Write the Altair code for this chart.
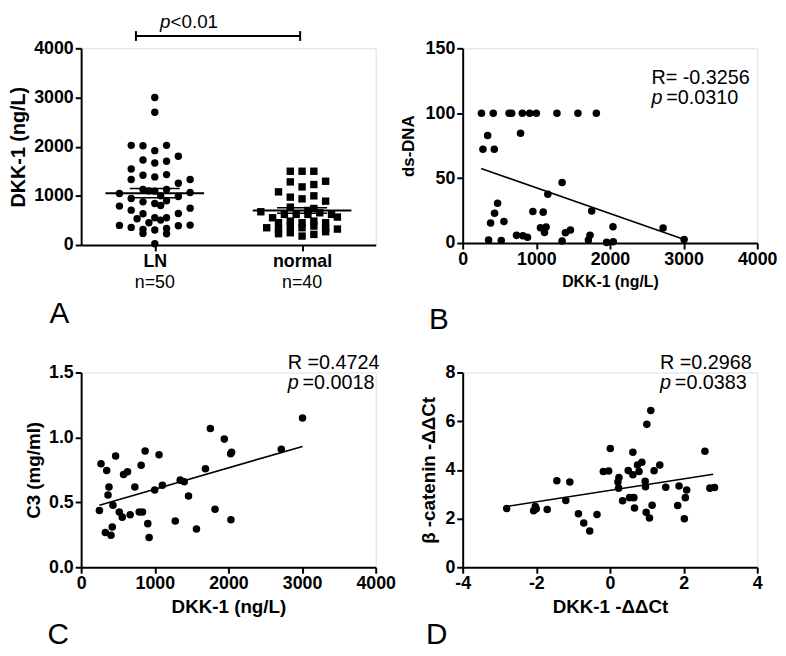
import altair as alt
import pandas as pd

FONT = "Liberation Sans"

# ---------------- Panel A: DKK-1 by group ----------------
ln_values = [3000, 2700, 2027, 2020, 2027, 1919, 1804, 1730, 1669, 1703, 1547, 1331, 1419, 1385,
             1432, 1257, 1331, 1128, 1095, 1128, 1047, 1068, 946, 878, 845, 899, 986, 791, 804,
             750, 709, 635, 642, 534, 554, 554, 507, 453, 399, 358, 318, 304, 338, 392, 405,
             236, 230, 27, 1100, 1000]
ln_slots = [0, 0, -2, -1, 1, 0, 2, -1, 0, 1, -2, -2, -1, 0,
            1, 2, 3, -1, 0, 1, -3, 3, -2, -1, 0, 1, 2, -3, 0.5,
            3, -2, -1, 2, -1.5, 0, 1, 0.5, -0.5, -3, -2, -1, 0, 1, 2, 3,
            -1, 1, 0, -0.5, 0.5]
normal_values = [1500, 1500, 1500, 1284, 1182, 1230, 1297, 1081, 973, 939, 1000, 892, 770, 743,
                 676, 703, 554, 622, 622, 622, 655, 622, 568, 453, 486, 453, 486, 453,
                 351, 318, 385, 351, 385, 338, 324, 250, 216, 270, 182, 230]
normal_slots = [-1, 0, 1, -1, 0, 1, 2, -2, -1, 0, 1, 2, -1, 1,
                -3.5, 0.5, -2.5, -1.5, -0.5, 0.5, 1.5, 2.5, 3, -2, -1, 0, 1, 2,
                -3, -2, -1, 0, 1, 2, 3, -1, 1, 2, 0, -2]
groups = ["LN", "normal"]
group_pos = [1, 2]
group_n = ["n=50", "n=40"]
group_mean = [1054, 703]
group_sem = [95, 55]
bracket_x = [0.872, 1.987]
bracket_y = 4250
p_text_pos = [1.107, 4420]

# ---------------- Panel B: ds-DNA vs DKK-1 ----------------
b_x = [255, 415, 630, 665, 810, 910, 1000, 1280, 1565, 1815,
       339, 275, 429, 786, 1350, 1156, 1752, 474, 433, 379, 560, 953, 1093, 1056, 1133,
       1111, 1395, 1463, 2041, 2722, 3007, 352, 524, 731, 817, 880, 1350, 1707, 1729,
       1955, 2045]
b_y = [100, 100, 100, 100, 100, 100, 100, 100, 100, 100,
       82.9, 72.2, 72.2, 84.5, 46.6, 37.6, 24.6, 30.7, 23.0, 15.4, 16.6, 24.3, 23.8, 11.8, 12.3,
       8.2, 7.9, 10.0, 12.5, 11.5, 2.8, 2.3, 2.0, 5.9, 5.6, 4.4, 1.5, 2.3, 5.9,
       0.5, 1.0]
b_fit_x = [250, 3000]
b_fit_y = [57.4, 3.0]

# ---------------- Panel C: C3 vs DKK-1 ----------------
c_x = [3006, 1755, 1944, 2043, 2030, 2718, 869, 1058, 468, 270, 347, 815, 576, 630, 1688,
       378, 729, 365, 999, 1103, 1346, 1400, 1458, 432, 248, 518, 558, 666, 788, 833, 1818,
       905, 1278, 2034, 1566, 423, 329, 405, 923]
c_y = [1.149, 1.068, 0.987, 0.885, 0.875, 0.908, 0.895, 0.867, 0.857, 0.798, 0.745, 0.786,
       0.714, 0.735, 0.758, 0.618, 0.618, 0.557, 0.595, 0.631, 0.671, 0.659, 0.549, 0.478,
       0.437, 0.425, 0.386, 0.404, 0.425, 0.425, 0.447, 0.336, 0.356, 0.366, 0.295, 0.310,
       0.267, 0.247, 0.229]
c_fit_x = [248, 3006]
c_fit_y = [0.478, 0.931]

# ---------------- Panel D: beta-catenin vs DKK-1 (ddCt) ----------------
d_x = [1.109, 1.001, 0.009, 2.579, 0.622, 0.866, 0.748, 1.353, -0.180, -0.036, 0.496, 1.199,
       0.790, 0.622, 0.243, 0.216, -1.443, -1.091, 0.956, 0.965, 0.234, 1.515, 1.876, 2.714,
       2.840, 2.083, 2.047, -1.199, 0.343, 0.532, 0.649, 1.145, 1.840, -2.804, -2.029, -2.002,
       -2.074, -1.704, 0.667, -0.857, -0.352, 0.983, 1.073, 2.020, -0.712, -0.550]
d_y = [6.44, 5.87, 4.88, 4.77, 4.72, 4.31, 4.20, 4.20, 3.93, 3.95, 3.97, 3.96,
       3.93, 3.80, 3.69, 3.50, 3.55, 3.50, 3.53, 3.31, 3.25, 3.29, 3.34, 3.25,
       3.28, 3.17, 2.86, 2.74, 2.73, 2.86, 2.86, 2.55, 2.54, 2.41, 2.49, 2.40,
       2.32, 2.37, 2.43, 2.20, 2.17, 2.26, 2.02, 1.99, 1.82, 1.49]
d_fit_x = [-2.867, 2.804]
d_fit_y = [2.48, 3.82]

# annotation texts: [R text, p value text, x, y_R, y_p]
b_note = ["R= -0.3256", "=0.0310", 2564, 122.8, 107.4]
c_note = ["R =0.4724", "=0.0018", 2805, 1.530, 1.370]
d_note = ["R =0.2968", "=0.0383", 1.36, 8.16, 7.31]

W = 298


def axis(title, values, title_size, title_pad, label_expr=None, fmt=None):
    kw = dict(
        title=title, values=values, grid=False,
        domainColor="black", domainWidth=2, tickColor="black", tickWidth=2, tickSize=6,
        labelColor="black", titleColor="black", labelFont=FONT, titleFont=FONT,
        labelFontWeight="bold", titleFontWeight="bold", labelFontSize=18,
        titleFontSize=title_size, titlePadding=title_pad, labelPadding=2,
        labelOverlap=False, labelFlush=False,
    )
    if label_expr is not None:
        kw["labelExpr"] = label_expr
    if fmt is not None:
        kw["format"] = fmt
    return alt.Axis(**kw)


def letter(ch, x, y):
    return alt.Chart(pd.DataFrame({"t": [ch]})).mark_text(
        font=FONT, fontSize=30, align="left", baseline="alphabetic", color="black"
    ).encode(x=alt.value(x), y=alt.value(y), text="t:N")


# ---- Panel A ----
a_df = pd.DataFrame({
    "group": ["LN"] * len(ln_values) + ["normal"] * len(normal_values),
    "value": ln_values + normal_values,
    "slot": ln_slots + normal_slots,
    "pos": [1] * len(ln_values) + [2] * len(normal_values),
})
a_xscale = alt.Scale(domain=[0.5, 2.5], nice=False, zero=False)
a_yscale = alt.Scale(domain=[0, 4000], nice=False)
a_xaxis = axis(None, group_pos, 18, 4, label_expr="datum.value == 1 ? 'LN' : 'normal'")
a_yaxis = axis("DKK-1 (ng/L)", [0, 1000, 2000, 3000, 4000], 20, 5, fmt="d")


def ax(field):
    return alt.X(field, type="quantitative", scale=a_xscale, axis=a_xaxis)


def ay(field):
    return alt.Y(field, type="quantitative", scale=a_yscale, axis=a_yaxis)


a_points = alt.Chart(a_df).transform_calculate(
    xj="datum.pos + datum.slot * 0.08"
).mark_point(filled=True, size=56, opacity=1, color="black").encode(
    x=ax("xj"), y=ay("value"),
    shape=alt.Shape("group:N", scale=alt.Scale(domain=groups, range=["circle", "square"]), legend=None),
)

sum_df = pd.DataFrame({"pos": group_pos, "mean": group_mean, "sem": group_sem, "n": group_n})
a_mean = alt.Chart(sum_df).transform_calculate(
    x1="datum.pos - 0.335", x2="datum.pos + 0.335"
).mark_rule(color="black", strokeWidth=2).encode(x=ax("x1"), x2="x2:Q", y=ay("mean"))
a_sem = alt.Chart(sum_df).transform_calculate(
    x1="datum.pos - 0.17", x2="datum.pos + 0.17"
).transform_fold(["up", "lo"], as_=["k", "v"]).transform_calculate(
    yy="datum.k == 'up' ? datum.mean + datum.sem : datum.mean - datum.sem"
).mark_rule(color="black", strokeWidth=1.5).encode(x=ax("x1"), x2="x2:Q", y=ay("yy"))

br_df = pd.DataFrame({"x1": [bracket_x[0]], "x2": [bracket_x[1]], "y": [bracket_y]})
a_br_h = alt.Chart(br_df).mark_rule(color="black", strokeWidth=2).encode(
    x=ax("x1"), x2="x2:Q", y=ay("y"))
brv_df = pd.DataFrame({"x": bracket_x, "y1": [bracket_y - 100] * 2, "y2": [bracket_y + 100] * 2})
a_br_v = alt.Chart(brv_df).mark_rule(color="black", strokeWidth=2).encode(
    x=ax("x"), y=ay("y1"), y2="y2:Q")
p_df = pd.DataFrame({"x": [p_text_pos[0]], "y": [p_text_pos[1]], "p": ["p"], "rest": ["<0.01"]})
a_p1 = alt.Chart(p_df).mark_text(font=FONT, fontSize=19, fontStyle="italic", align="right",
                                 baseline="alphabetic", color="black").encode(
    x=ax("x"), y=ay("y"), text="p:N")
a_p2 = alt.Chart(p_df).mark_text(font=FONT, fontSize=19, align="left",
                                 baseline="alphabetic", color="black").encode(
    x=ax("x"), y=ay("y"), text="rest:N")
a_n = alt.Chart(sum_df).mark_text(font=FONT, fontSize=18, baseline="alphabetic", color="black").encode(
    x=ax("pos"), y=alt.value(242), text="n:N")

panel_a = alt.layer(a_points, a_mean, a_sem, a_br_h, a_br_v, a_p1, a_p2, a_n,
                    letter("A", -32, 278)).properties(width=W, height=199)


# ---- scatter panels ----
def scatter(xs, ys, fx, fy, note, xdom, xvals, ydom, yvals, xtitle, ytitle,
            xts, yts, ytp, yfmt, let, lx, ly, h):
    xscale = alt.Scale(domain=xdom, nice=False, zero=False)
    yscale = alt.Scale(domain=ydom, nice=False, zero=False)
    xaxis = axis(xtitle, xvals, xts, 5, label_expr="'' + datum.value")
    yaxis = axis(ytitle, yvals, yts, ytp, fmt=yfmt)

    def X(f):
        return alt.X(f, type="quantitative", scale=xscale, axis=xaxis)

    def Y(f):
        return alt.Y(f, type="quantitative", scale=yscale, axis=yaxis)

    pts = alt.Chart(pd.DataFrame({"x": xs, "y": ys})).mark_circle(
        size=58, opacity=1, color="black").encode(x=X("x"), y=Y("y"))
    fit = alt.Chart(pd.DataFrame({"x": fx, "y": fy})).mark_line(
        color="black", strokeWidth=1.6).encode(x=X("x"), y=Y("y"))
    ndf = pd.DataFrame({"x": [note[2]], "yr": [note[3]], "yp": [note[4]],
                        "r": [note[0]], "p": ["p"], "pv": [note[1]]})
    t_r = alt.Chart(ndf).mark_text(font=FONT, fontSize=20, align="left", baseline="alphabetic",
                                   color="black").encode(x=X("x"), y=Y("yr"), text="r:N")
    t_p = alt.Chart(ndf).mark_text(font=FONT, fontSize=20, fontStyle="italic", align="left",
                                   baseline="alphabetic", color="black").encode(
        x=X("x"), y=Y("yp"), text="p:N")
    t_pv = alt.Chart(ndf).mark_text(font=FONT, fontSize=20, align="left", baseline="alphabetic",
                                    color="black", dx=15).encode(x=X("x"), y=Y("yp"), text="pv:N")
    return alt.layer(pts, fit, t_r, t_p, t_pv, letter(let, lx, ly)).properties(width=W, height=h)


panel_b = scatter(b_x, b_y, b_fit_x, b_fit_y, b_note, [0, 4000], [0, 1000, 2000, 3000, 4000],
                  [0, 150], [0, 50, 100, 150], "DKK-1 (ng/L)", "ds-DNA", 16, 17, 8, "d",
                  "B", -34, 284, 197)
panel_c = scatter(c_x, c_y, c_fit_x, c_fit_y, c_note, [0, 4000], [0, 1000, 2000, 3000, 4000],
                  [0, 1.5], [0, 0.5, 1.0, 1.5], "DKK-1 (ng/L)", "C3 (mg/ml)", 19, 19, 5, ".1f",
                  "C", -34, 275, 197)
panel_d = scatter(d_x, d_y, d_fit_x, d_fit_y, d_note, [-4, 4], [-4, -2, 0, 2, 4],
                  [0, 8], [0, 2, 4, 6, 8], "DKK-1 -ΔΔCt", "β -catenin -ΔΔCt", 19, 19, 6, "d",
                  "D", -37, 275, 197)

chart = alt.concat(panel_a, panel_b, panel_c, panel_d, columns=2,
                   spacing={"row": 16, "column": 2}).properties(
    padding={"left": 0, "top": 0, "right": 0, "bottom": 0}
).configure_view(stroke=None).configure(font=FONT, background="white")

chart.save("out.html", embed_options={"renderer": "svg", "actions": False})
